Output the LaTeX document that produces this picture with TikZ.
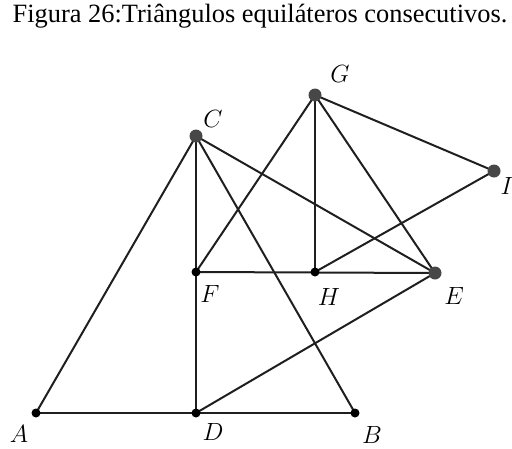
\documentclass[tikz,border=0pt]{standalone}
\usepackage{fontspec}
\newfontfamily\titlefont{Liberation Serif}
\begin{document}
\begin{tikzpicture}[x=1pt,y=-1pt,
  seg/.style={line width=2pt, black!88},
  bigdot/.style={circle, fill=black!72, inner sep=0pt, minimum size=13pt},
  smalldot/.style={circle, fill=black, inner sep=0pt, minimum size=9pt},
  lbl/.style={font=\fontsize{24}{28}\selectfont, inner sep=0pt}]
\useasboundingbox (0,0) rectangle (512,448);
\node[font=\titlefont\fontsize{26.4}{30}\selectfont, anchor=base, inner sep=0pt] (title) at (260,22) {Figura 26:Triângulos equiláteros consecutivos.};
\coordinate (A) at (36,413);
\coordinate (D) at (196,413);
\coordinate (B) at (355,413);
\coordinate (C) at (196,136);
\coordinate (F) at (196,272);
\coordinate (H) at (315,272);
\coordinate (E) at (435,273);
\coordinate (G) at (315,95);
\coordinate (I) at (494,171);
\draw[seg] (A) -- (B);
\draw[seg] (A) -- (C) -- (B);
\draw[seg] (C) -- (D);
\draw[seg] (C) -- (E);
\draw[seg] (D) -- (E);
\draw[seg] (F) -- (E);
\draw[seg] (F) -- (G) -- (E);
\draw[seg] (G) -- (H);
\draw[seg] (G) -- (I) -- (H);
\node[smalldot] (nA) at (A) {};
\node[smalldot] (nD) at (D) {};
\node[smalldot] (nB) at (B) {};
\node[smalldot] (nF) at (F) {};
\node[smalldot] (nH) at (H) {};
\node[bigdot] (nC) at (C) {};
\node[bigdot] (nG) at (G) {};
\node[bigdot] (nE) at (E) {};
\node[bigdot] (nI) at (I) {};
\node[lbl] (lA) at (19,434) {$A$};
\node[lbl] (lD) at (213,432) {$D$};
\node[lbl] (lB) at (372,435) {$B$};
\node[lbl] (lC) at (213,119) {$C$};
\node[lbl] (lG) at (340,74) {$G$};
\node[lbl] (lI) at (507,186) {$I$};
\node[lbl] (lF) at (210,294) {$F$};
\node[lbl] (lH) at (329,297) {$H$};
\node[lbl] (lE) at (454,296) {$E$};
\end{tikzpicture}
\end{document}
